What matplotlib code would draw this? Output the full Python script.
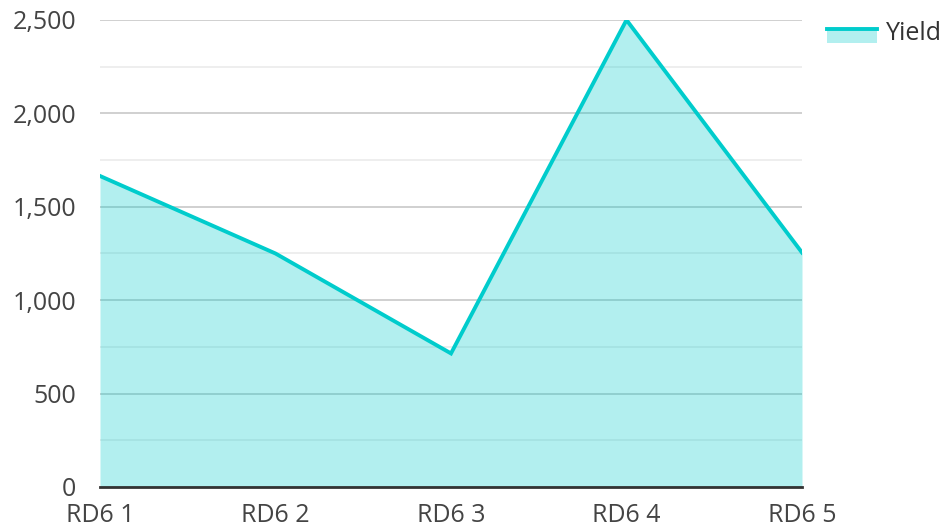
import matplotlib
matplotlib.use("Agg")
import matplotlib.pyplot as plt
from matplotlib.legend_handler import HandlerBase
from matplotlib.patches import Rectangle
from matplotlib.lines import Line2D
from matplotlib.ticker import FuncFormatter, MultipleLocator

categories = ["RD6 1", "RD6 2", "RD6 3", "RD6 4", "RD6 5"]
yield_values = [1665, 1250, 715, 2500, 1255]
series_name = "Yield"

plt.rcParams["font.family"] = ["Open Sans", "DejaVu Sans"]

line_color = "#00cccc"
fill_color = "#00cccc"

fig = plt.figure(figsize=(9.43, 5.26), dpi=100)
ax = fig.add_axes([100 / 943, 39 / 526, 702 / 943, 467 / 526])

x = list(range(len(categories)))
ax.fill_between(x, yield_values, 0, color=fill_color, alpha=0.3, linewidth=0, zorder=3)
ax.plot(x, yield_values, color=line_color, linewidth=2.8, zorder=4, solid_joinstyle="miter")

ax.set_xlim(0, len(categories) - 1)
ax.set_ylim(0, 2500)
ax.set_xticks(x)
ax.set_xticklabels(categories)
ax.yaxis.set_major_locator(MultipleLocator(500))
ax.yaxis.set_minor_locator(MultipleLocator(250))
ax.yaxis.set_major_formatter(FuncFormatter(lambda v, p: f"{int(v):,}"))

ax.set_axisbelow(True)
ax.grid(axis="y", which="major", color="#c8c8c8", linewidth=1.2)
ax.grid(axis="y", which="minor", color="#ebebeb", linewidth=1.2)
for s in ["top", "right", "left"]:
    ax.spines[s].set_visible(False)
ax.spines["bottom"].set_color("#333333")
ax.spines["bottom"].set_linewidth(2)
ax.spines["bottom"].set_zorder(5)

ax.tick_params(axis="both", which="both", length=0, labelsize=18, labelcolor="#444444")
ax.tick_params(axis="y", pad=17)
ax.tick_params(axis="x", pad=11.5)


class AreaHandler(HandlerBase):
    def create_artists(self, legend, orig_handle, xdescent, ydescent, width, height, fontsize, trans):
        rect = Rectangle((-xdescent, -ydescent - height * 0.15), width, height * 0.8, facecolor=fill_color,
                         alpha=0.3, linewidth=0, transform=trans)
        ln = Line2D([-xdescent, -xdescent + width], [-ydescent + height * 0.65] * 2,
                    color=line_color, linewidth=2.8, transform=trans)
        return [rect, ln]


handle = Rectangle((0, 0), 1, 1)
leg = ax.legend([handle], [series_name], handler_map={Rectangle: AreaHandler()},
                loc="upper left", bbox_to_anchor=(827 / 943, 1 - 21 / 526),
                bbox_transform=fig.transFigure, frameon=False, fontsize=18,
                handlelength=2.0, handleheight=0.7, handletextpad=0.35, borderpad=0, borderaxespad=0)
for t in leg.get_texts():
    t.set_color("#333333")

fig.savefig("out.png", dpi=100)
